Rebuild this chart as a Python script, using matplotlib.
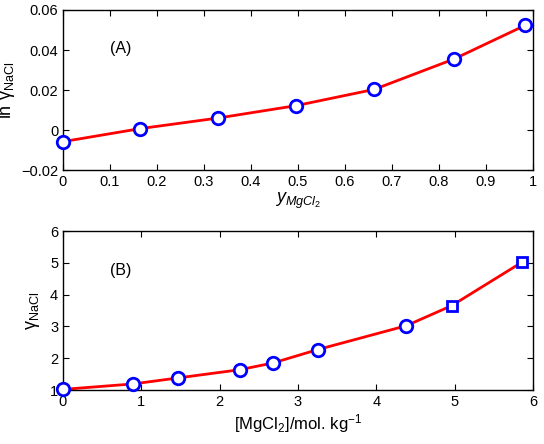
#!/usr/bin/env python3
""" activity coefficient of NaCl in NaCl-MgCl2 mixtures
"""
import matplotlib
matplotlib.use('Agg')
import matplotlib.pyplot as plt

plt.rcParams['font.family'] = ['Liberation Sans', 'DejaVu Sans']
plt.rcParams['mathtext.fontset'] = 'custom'
plt.rcParams['mathtext.rm'] = 'Liberation Sans'
plt.rcParams['mathtext.it'] = 'Liberation Sans:italic'
plt.rcParams['font.size'] = 10

# panel A: ln gamma vs mole fraction of MgCl2
y_mg = [0.0, 0.164, 0.33, 0.496, 0.662, 0.832, 0.983]
ln_gamma = [-0.0058, 0.0007, 0.006, 0.0122, 0.0203, 0.0355, 0.0523]

# panel B: gamma vs MgCl2 molality
m_circ = [0.0, 0.89, 1.47, 2.26, 2.68, 3.25, 4.38]
g_circ = [1.02, 1.19, 1.38, 1.64, 1.85, 2.27, 3.02]
m_sq = [4.96, 5.86]
g_sq = [3.65, 5.02]


def style(ax):
    ax.tick_params(direction='in', top=True, right=True, length=4, labelsize=10.5)
    for s in ax.spines.values():
        s.set_linewidth(1.0)


fig = plt.figure(figsize=(5.44, 4.44), dpi=100)
ax1 = fig.add_axes([0.1158, 0.617, 0.864, 0.3605])
ax2 = fig.add_axes([0.1158, 0.1216, 0.864, 0.3581])

ax1.plot(y_mg, ln_gamma, '-', color='red', lw=2, zorder=2)
ax1.plot(y_mg, ln_gamma, 'o', ms=9, mfc='white', mec='blue', mew=2,
         zorder=3, clip_on=False)
ax1.set_xlim(0, 1)
ax1.set_ylim(-0.02, 0.06)
ax1.set_xticks([0, 0.1, 0.2, 0.3, 0.4, 0.5, 0.6, 0.7, 0.8, 0.9, 1])
ax1.set_xticklabels(['0', '0.1', '0.2', '0.3', '0.4', '0.5', '0.6', '0.7', '0.8', '0.9', '1'])
ax1.set_yticks([-0.02, 0, 0.02, 0.04, 0.06])
ax1.set_yticklabels(['\u22120.02', '0', '0.02', '0.04', '0.06'])
ax1.set_xlabel('$\\mathit{y}_{\\mathit{MgCl}_2}$', fontsize=13, labelpad=1)
ax1.set_ylabel('ln \u03b3$_{\\mathrm{NaCl}}$', fontsize=13, labelpad=3)
ax1.text(0.1, 0.041, '(A)', fontsize=11.5, va='center')
style(ax1)

ax2.plot(m_circ + m_sq, g_circ + g_sq, '-', color='red', lw=2, zorder=2)
ax2.plot(m_circ, g_circ, 'o', ms=9, mfc='white', mec='blue', mew=2,
         zorder=3, clip_on=False)
ax2.plot(m_sq, g_sq, 's', ms=7, mfc='white', mec='blue', mew=2, zorder=3)
ax2.set_xlim(0, 6)
ax2.set_ylim(1, 6)
ax2.set_xticks(range(0, 7))
ax2.set_yticks(range(1, 7))
ax2.set_xlabel('[MgCl$_2$]/mol. kg$^{-1}$', fontsize=12, labelpad=2)
ax2.set_ylabel('\u03b3$_{\\mathrm{NaCl}}$', fontsize=13, labelpad=6)
ax2.text(0.6, 4.75, '(B)', fontsize=11.5, va='center')
style(ax2)

fig.savefig('out.png', dpi=100)
